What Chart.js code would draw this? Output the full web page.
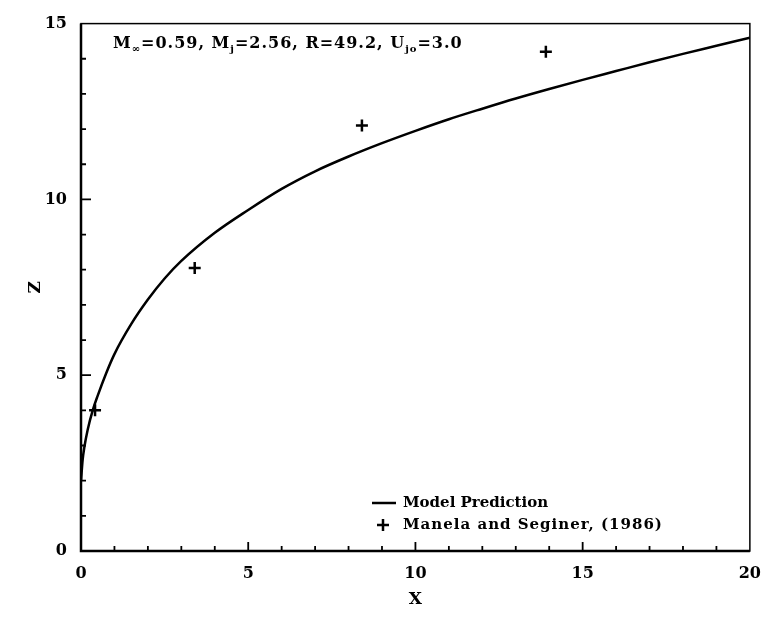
<!DOCTYPE html>
<html>
<head>
<meta charset="utf-8">
<script src="https://cdn.jsdelivr.net/npm/chart.js@4"></script>
<style>
  html, body { margin: 0; padding: 0; background: #fff; }
  #wrap { width: 774px; height: 631px; }
</style>
</head>
<body>
<div id="wrap"><canvas id="jet-chart"></canvas></div>
<script>
// model trajectory (x, z)
var modelX = [0, 0.05, 0.1, 0.2, 0.35, 0.5, 0.75, 1, 1.5, 2, 2.5, 3, 4, 5, 6, 7, 8, 9, 10, 11, 12, 13, 14, 15, 16, 17, 18, 19, 20];
var modelZ = [2.0, 2.6, 2.95, 3.45, 4.0, 4.42, 5.05, 5.6, 6.45, 7.15, 7.75, 8.25, 9.05, 9.7, 10.3, 10.8, 11.22, 11.6, 11.95, 12.28, 12.58, 12.87, 13.14, 13.4, 13.65, 13.9, 14.14, 14.37, 14.6];
// measurements
var obsX = [0.42, 3.4, 8.4, 13.9];
var obsZ = [4.0, 8.05, 12.1, 14.2];
var xTicks = [0, 5, 10, 15, 20];
var zTicks = [0, 5, 10, 15];

var FONT = "'DejaVu Serif', serif";

function pairs(xs, ys) {
  return xs.map(function (x, i) { return { x: x, y: ys[i] }; });
}

// inward tick marks, frame, parameter line and legend
var decorations = {
  id: 'decorations',
  afterDraw: function (chart) {
    var ctx = chart.ctx;
    var a = chart.chartArea;
    var xs = chart.scales.x, ys = chart.scales.y;
    ctx.save();
    ctx.strokeStyle = '#000';

    ctx.lineWidth = 1.5;
    ctx.strokeRect(a.left, a.top, a.right - a.left, a.bottom - a.top);
    ctx.lineWidth = 2.5;
    ctx.beginPath();
    ctx.moveTo(a.left, a.top);
    ctx.lineTo(a.left, a.bottom);
    ctx.lineTo(a.right, a.bottom);
    ctx.stroke();

    ctx.lineWidth = 1.8;
    ctx.beginPath();
    for (var i = 1; i < 20; i++) {
      var px = xs.getPixelForValue(i);
      var len = i % 5 === 0 ? 9 : 5;
      ctx.moveTo(px, a.bottom);
      ctx.lineTo(px, a.bottom - len);
    }
    for (var j = 1; j < 15; j++) {
      var py = ys.getPixelForValue(j);
      var l2 = j % 5 === 0 ? 10 : 5;
      ctx.moveTo(a.left, py);
      ctx.lineTo(a.left + l2, py);
    }
    ctx.stroke();

    // parameter line with subscripts
    var parts = [
      ['M', 0], ['\u221e', 1], ['=0.59, M', 0], ['j', 1],
      ['=2.56, R=49.2, U', 0], ['jo', 1], ['=3.0', 0]
    ];
    var tx = 113, ty = 48;
    ctx.fillStyle = '#000';
    ctx.textBaseline = 'alphabetic';
    ctx.textAlign = 'left';
    ctx.letterSpacing = '1px';
    parts.forEach(function (p) {
      ctx.font = p[1] ? 'bold 10px ' + FONT : 'bold 16px ' + FONT;
      ctx.fillText(p[0], tx, ty + (p[1] ? 4 : 0));
      tx += ctx.measureText(p[0]).width;
    });
    ctx.letterSpacing = '0px';

    // legend
    ctx.font = 'bold 15px ' + FONT;
    ctx.textBaseline = 'middle';
    ctx.lineWidth = 2.5;
    ctx.beginPath();
    ctx.moveTo(372, 503);
    ctx.lineTo(396, 503);
    ctx.stroke();
    ctx.fillText('Model Prediction', 403, 503);
    ctx.beginPath();
    ctx.moveTo(377, 525); ctx.lineTo(389, 525);
    ctx.moveTo(383, 519); ctx.lineTo(383, 531);
    ctx.stroke();
    ctx.letterSpacing = '1px';
    ctx.fillText('Manela and Seginer, (1986)', 403, 525);
    ctx.restore();
  }
};

var chart = new Chart(document.getElementById('jet-chart'), {
  type: 'scatter',
  data: {
    datasets: [
      {
        label: 'Model Prediction',
        data: pairs(modelX, modelZ),
        showLine: true,
        borderColor: '#000',
        borderWidth: 2.5,
        pointRadius: 0,
        cubicInterpolationMode: 'monotone'
      },
      {
        label: 'Manela and Seginer, (1986)',
        data: pairs(obsX, obsZ),
        pointStyle: 'cross',
        pointRadius: 6,
        borderColor: '#000',
        borderWidth: 2.5
      }
    ]
  },
  options: {
    responsive: true,
    maintainAspectRatio: false,
    animation: false,
    layout: { padding: { top: 19, right: 20, left: 0, bottom: 0 } },
    plugins: {
      legend: { display: false },
      tooltip: { enabled: false }
    },
    scales: {
      x: {
        type: 'linear',
        min: 0, max: 20,
        afterBuildTicks: function (s) { s.ticks = xTicks.map(function (v) { return { value: v }; }); },
        afterFit: function (s) { s.height = 80; },
        grid: { display: false, drawTicks: false },
        border: { display: false },
        ticks: { color: '#000', padding: 13, maxRotation: 0, font: { family: FONT, size: 16, weight: 'bold' } },
        title: { display: true, text: 'X', color: '#000', padding: { top: 0, bottom: 21 }, font: { family: FONT, size: 17, weight: 'bold' } }
      },
      y: {
        type: 'linear',
        min: 0, max: 15,
        afterBuildTicks: function (s) { s.ticks = zTicks.map(function (v) { return { value: v }; }); },
        afterFit: function (s) { s.width = 81; },
        grid: { display: false, drawTicks: false },
        border: { display: false },
        ticks: { color: '#000', padding: 14, font: { family: FONT, size: 16, weight: 'bold' } },
        title: { display: true, text: 'Z', color: '#000', padding: { top: 25, bottom: 0 }, font: { family: FONT, size: 17, weight: 'bold' } }
      }
    }
  },
  plugins: [decorations]
});
</script>
</body>
</html>
